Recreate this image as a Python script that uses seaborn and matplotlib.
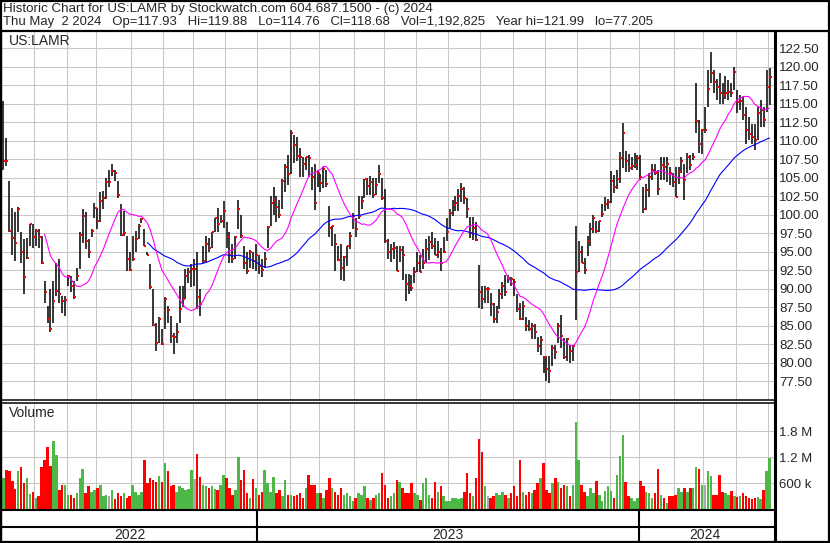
import numpy as np
import pandas as pd
import matplotlib
matplotlib.use("Agg")
import matplotlib.pyplot as plt
from matplotlib.patches import Rectangle
import seaborn as sns

# LAMR, one bar per two trading days, May 2022 -> May 2 2024
high = [
    115.4, 110.4, 104.5, 100.9, 100.3, 101.0, 97.6, 96.7, 96.9, 98.8,
    98.7, 98.0, 98.0, 97.1, 91.0, 87.7, 90.0, 91.0, 93.5, 94.0, 89.0,
    89.0, 91.9, 91.7, 91.0, 92.8, 97.6, 100.7, 100.3, 96.7, 98.0, 101.6,
    100.9, 103.0, 103.2, 105.0, 106.1, 106.8, 106.1, 104.5, 101.4, 100.5, 97.1,
    95.0, 97.1, 97.8, 98.7, 99.6, 98.0, 95.0, 93.3, 90.0, 85.4, 86.1,
    84.5, 88.8, 87.7, 86.3, 84.0, 85.4, 90.3, 90.3, 92.6, 92.8, 93.3,
    94.0, 94.9, 89.9, 95.8, 97.1, 96.9, 97.6, 99.6, 100.9, 99.9, 101.9,
    99.0, 97.6, 96.0, 97.1, 102.0, 99.9, 95.8, 95.0, 95.2, 95.0, 96.0,
    94.5, 94.0, 95.0, 98.5, 102.5, 103.8, 102.5, 102.0, 104.8, 106.8, 108.0,
    111.4, 110.8, 110.5, 109.0, 107.8, 107.8, 108.0, 106.5, 106.9, 106.0,
    105.5, 106.4, 106.0, 101.2, 98.5, 97.4, 95.8, 96.0, 94.4, 95.8, 97.6,
    100.2, 99.5, 102.5, 102.5, 104.8, 105.0, 105.2, 105.0, 105.0, 106.7,
    105.0, 103.5, 96.7, 96.0, 96.3, 95.8, 95.8, 95.8, 92.0, 92.0, 91.9,
    92.9, 95.0, 94.5, 95.3, 96.7, 97.1, 97.6, 96.9, 96.5, 95.5, 97.0,
    99.5, 100.8, 102.0, 102.5, 103.4, 104.3, 103.8, 102.3, 99.7, 99.7, 99.0,
    93.2, 90.4, 90.4, 90.2, 89.4, 88.1, 87.7, 90.0, 90.9, 91.8, 91.9,
    91.6, 91.3, 89.2, 88.1, 88.3, 86.2, 85.8, 85.4, 85.2, 83.4, 83.6,
    80.9, 80.9, 80.9, 82.4, 82.4, 85.4, 86.4, 83.3, 83.3, 82.4, 82.4,
    98.4, 96.5, 95.8, 94.2, 97.1, 98.9, 99.9, 99.2, 99.1, 101.4, 102.4,
    102.1, 105.9, 105.4, 106.1, 108.5, 112.4, 108.6, 108.2, 107.8, 108.3, 108.1,
    108.1, 103.8, 104.2, 105.6, 106.9, 106.9, 106.0, 107.8, 107.8, 107.8, 106.5,
    105.6, 106.5, 106.5, 107.8, 106.9, 108.3, 108.1, 108.3, 117.8, 112.8, 111.6,
    114.6, 119.6, 121.99, 119.6, 118.4, 119.1, 117.8, 118.7, 118.2, 117.8, 120.0,
    116.9, 116.2, 115.9, 114.6, 113.2, 112.3, 112.3, 114.6, 115.5, 114.6, 119.6,
    119.88,
]
low = [
    106.1, 106.6, 97.6, 94.6, 93.7, 97.6, 93.5, 89.2, 94.0, 95.8,
    95.5, 95.8, 95.5, 93.3, 88.1, 85.4, 84.1, 85.4, 89.0, 88.1, 86.7,
    86.3, 90.4, 89.5, 88.6, 91.0, 92.6, 96.2, 95.3, 94.2, 97.0, 99.5,
    98.0, 99.0, 100.7, 102.1, 103.8, 105.2, 104.5, 102.3, 97.1, 97.1, 92.4,
    92.4, 93.7, 94.9, 96.7, 98.9, 95.8, 94.6, 90.0, 85.0, 81.6, 82.7,
    82.4, 84.5, 85.3, 82.7, 81.2, 82.7, 85.4, 87.5, 88.6, 90.8, 90.2,
    90.4, 87.2, 86.3, 93.5, 93.5, 94.9, 95.5, 97.6, 97.6, 98.9, 98.2,
    95.5, 93.5, 93.5, 94.0, 98.0, 96.9, 92.6, 92.0, 92.8, 92.6, 92.4,
    92.0, 91.5, 92.8, 95.5, 98.5, 100.0, 99.0, 99.5, 100.7, 103.0, 104.0,
    105.5, 107.0, 107.3, 105.1, 105.1, 106.0, 105.1, 103.3, 100.6, 103.8,
    103.0, 103.6, 103.7, 97.0, 95.8, 92.4, 93.7, 91.2, 91.0, 93.1, 95.3,
    98.0, 97.0, 99.4, 100.7, 102.3, 102.7, 102.7, 102.3, 102.7, 104.3,
    102.0, 96.2, 94.0, 93.6, 94.0, 92.4, 93.6, 91.2, 88.3, 89.3, 89.7,
    90.8, 92.2, 92.2, 92.6, 93.5, 93.8, 95.3, 94.6, 94.2, 92.4, 94.8,
    96.5, 98.2, 99.8, 100.5, 100.5, 101.7, 101.4, 99.5, 96.9, 96.6, 96.4,
    87.4, 87.3, 88.1, 88.1, 86.3, 85.4, 85.4, 87.3, 88.6, 89.0, 90.8,
    90.4, 89.0, 86.8, 85.8, 85.8, 84.3, 84.3, 83.2, 83.2, 81.4, 81.0,
    78.6, 77.5, 77.2, 79.5, 80.5, 82.7, 81.9, 80.5, 80.2, 80.0, 80.2,
    85.8, 92.2, 93.5, 92.0, 94.4, 95.8, 97.5, 97.5, 97.7, 99.7, 100.5,
    100.7, 101.6, 102.9, 103.4, 104.3, 106.3, 105.8, 105.8, 106.0, 106.3, 106.0,
    104.7, 100.2, 100.6, 102.4, 104.7, 105.3, 102.6, 104.7, 104.7, 104.4, 104.0,
    103.8, 102.4, 104.2, 105.6, 102.0, 105.6, 106.0, 107.4, 111.0, 108.3, 108.2,
    111.0, 114.6, 117.8, 116.4, 115.5, 115.0, 115.0, 115.6, 115.5, 115.9, 116.9,
    113.7, 114.2, 112.8, 109.6, 110.1, 109.6, 108.7, 110.1, 111.9, 111.9, 113.9,
    114.76,
]
close = [
    107.3, 107.2, 97.8, 96.9, 96.2, 100.8, 94.9, 91.6, 94.2, 98.7,
    97.0, 97.8, 97.0, 93.4, 89.5, 85.9, 84.6, 88.3, 89.7, 89.2, 88.3,
    88.4, 91.7, 90.4, 88.9, 91.7, 97.2, 99.8, 96.4, 94.9, 97.8, 100.9,
    99.2, 101.8, 102.3, 104.4, 104.4, 105.9, 105.6, 102.6, 97.2, 97.5, 94.0,
    92.5, 94.0, 96.7, 98.5, 99.4, 95.8, 94.6, 90.2, 85.1, 82.6, 85.9,
    82.5, 88.6, 87.1, 83.6, 83.4, 84.1, 87.2, 88.6, 91.7, 92.2, 92.6,
    92.6, 88.8, 87.9, 93.7, 96.0, 95.5, 97.6, 99.6, 98.7, 99.1, 100.5,
    97.0, 94.5, 94.0, 97.0, 100.7, 97.1, 93.5, 92.4, 94.9, 93.7, 94.6,
    93.0, 92.5, 94.0, 98.3, 101.6, 102.0, 101.0, 100.0, 104.6, 106.5, 105.5,
    111.0, 109.4, 107.9, 107.8, 106.9, 107.8, 107.6, 105.1, 101.6, 105.6,
    104.3, 106.2, 104.1, 98.2, 98.5, 96.0, 93.8, 92.8, 94.3, 95.8, 97.1,
    99.8, 98.0, 99.8, 101.8, 104.8, 103.9, 104.4, 102.7, 104.0, 105.5,
    102.3, 96.4, 94.9, 95.3, 95.5, 92.4, 95.2, 94.5, 90.6, 90.4, 90.1,
    92.2, 93.5, 92.3, 93.5, 95.3, 96.3, 95.8, 94.6, 95.0, 93.5, 95.0,
    97.6, 100.2, 101.3, 101.6, 102.5, 103.4, 102.2, 100.8, 97.5, 98.2, 96.6,
    89.5, 88.6, 89.9, 89.9, 87.9, 85.9, 86.8, 89.2, 90.4, 89.5, 91.4,
    91.3, 90.9, 87.2, 85.9, 87.7, 84.9, 84.5, 85.0, 84.1, 82.3, 83.0,
    80.7, 79.1, 78.9, 82.0, 81.4, 85.0, 83.6, 80.7, 83.2, 81.6, 82.3,
    92.3, 94.9, 93.5, 92.5, 96.4, 98.0, 99.6, 97.8, 99.1, 100.1, 101.5,
    101.7, 104.6, 103.7, 104.8, 107.7, 111.1, 107.3, 106.3, 106.6, 106.7, 107.6,
    105.1, 100.8, 103.3, 105.1, 106.0, 105.6, 103.5, 106.7, 106.5, 106.8, 105.6,
    104.4, 102.4, 105.8, 107.2, 104.7, 107.8, 106.7, 107.8, 112.7, 109.5, 111.4,
    111.4, 117.0, 119.1, 117.9, 117.2, 116.5, 116.2, 116.4, 116.6, 116.5, 119.3,
    115.3, 115.4, 113.5, 111.5, 110.9, 110.5, 110.1, 113.7, 114.1, 112.8, 117.3,
    118.68,
]
# volume, thousands of shares
volume = [
    720, 900, 880, 650, 480, 880, 980, 600, 720, 350,
    400, 270, 300, 980, 1140, 1440, 1000, 1580, 1260, 450, 570,
    570, 340, 340, 260, 380, 720, 940, 380, 530, 410, 450,
    490, 570, 300, 340, 300, 450, 230, 380, 300, 380, 260,
    300, 570, 410, 340, 410, 1140, 600, 720, 680, 640, 760,
    640, 1060, 880, 530, 570, 410, 530, 490, 450, 470, 900,
    700, 1280, 740, 570, 530, 490, 530, 470, 450, 570, 800,
    720, 490, 340, 450, 1200, 680, 900, 380, 260, 700, 490,
    340, 410, 900, 600, 410, 740, 380, 450, 300, 680, 340,
    340, 300, 340, 380, 260, 500, 800, 560, 560, 380,
    380, 260, 450, 720, 490, 410, 340, 490, 340, 380, 300,
    200, 260, 380, 340, 530, 260, 220, 260, 340, 380,
    850, 570, 260, 300, 380, 680, 640, 490, 380, 380, 600,
    380, 340, 210, 600, 720, 340, 260, 640, 410, 550, 300,
    190, 190, 260, 270, 230, 260, 410, 850, 380, 300, 720,
    1620, 1330, 550, 300, 260, 300, 380, 340, 410, 340, 260,
    380, 530, 300, 1140, 410, 340, 410, 380, 450, 600, 720,
    1060, 450, 380, 600, 720, 640, 490, 560, 530, 300, 570,
    2020, 1140, 570, 410, 300, 490, 380, 650, 340, 190, 430,
    530, 430, 260, 800, 1220, 1710, 640, 300, 260, 190, 260,
    660, 550, 410, 380, 260, 380, 940, 340, 260, 160, 300,
    300, 340, 490, 410, 490, 410, 490, 490, 980, 940, 570,
    570, 880, 760, 340, 340, 800, 410, 380, 340, 430, 300,
    280, 300, 380, 300, 260, 230, 260, 280, 230, 450, 880,
    1190,
]
price_ticks = np.arange(77.5, 122.51, 2.5)
vol_ticks = [0.6, 1.2, 1.8]
vol_tick_labels = ["600 k", "1.2 M", "1.8 M"]
header1 = "Historic Chart for US:LAMR by Stockwatch.com 604.687.1500 - (c) 2024"
header2 = ("Thu May  2 2024   Op=117.93   Hi=119.88   Lo=114.76   Cl=118.68   "
           "Vol=1,192,825   Year hi=121.99   lo=77.205")

sns.set_style("white")
plt.rcParams["font.family"] = ["Liberation Sans", "DejaVu Sans"]

df = pd.DataFrame({"high": high, "low": low, "close": close, "vol": volume})
df["date"] = pd.bdate_range(end="2024-05-02", periods=2 * len(df))[1::2]
df["x"] = np.arange(len(df))
df["ma_fast"] = df["close"].rolling(15).mean()
df["ma_slow"] = df["close"].rolling(50).mean()
chg = df["close"].diff().fillna(1)
df["vcol"] = np.where(chg > 0, "#4db848", np.where(chg < 0, "#ff0000", "#a8a8a8"))

month = df["date"].dt.to_period("M")
month_edges = df["x"][month != month.shift()].values[1:] - 0.5
year = df["date"].dt.year
year_edges = df["x"][year != year.shift()].values[1:] - 0.5

W, H = 830, 543
fig = plt.figure(figsize=(W / 100, H / 100), dpi=100)


def rect(x0, y0, x1, y1):
    return [x0 / W, 1 - y1 / H, (x1 - x0) / W, (y1 - y0) / H]


ax = fig.add_axes(rect(2, 32, 774.5, 399.5))
axv = fig.add_axes(rect(2, 402.5, 774.5, 509.5), sharex=ax)
axd = fig.add_axes(rect(2, 509.5, 774.5, 542), sharex=ax)

grid_kw = dict(color="#c8c8c8", lw=0.75)

# price panel
ax.vlines(df["x"], df["low"], df["high"], color="black", lw=1.1, zorder=2)
ax.scatter(df["x"] + 0.35, df["close"], marker="s", s=2.2, color="red",
           linewidths=0, zorder=3)
sns.lineplot(data=df, x="x", y="ma_slow", ax=ax, color="#0000ff", lw=0.8,
             errorbar=None, zorder=4)
sns.lineplot(data=df, x="x", y="ma_fast", ax=ax, color="#ff00ff", lw=0.8,
             errorbar=None, zorder=4)
ax.set_xlim(-0.51, len(df) - 1 + 1.7)
ax.set_ylim(75.0, 124.7)
ax.set_yticks(price_ticks)
ax.set_yticklabels([f"{t:.2f}" for t in price_ticks])
ax.yaxis.tick_right()
ax.set_xticks(month_edges)
ax.grid(True, **grid_kw)
ax.tick_params(axis="y", length=0, pad=3.3, labelsize=9.5)
ax.tick_params(axis="x", length=0, labelbottom=False)
ax.set_xlabel("")
ax.set_ylabel("")

# volume panel
axv.bar(df["x"], df["vol"] / 1000, width=0.85, color=df["vcol"], linewidth=0, zorder=2)
axv.set_ylim(0, 2.46)
axv.set_yticks(vol_ticks)
axv.set_yticklabels(vol_tick_labels)
axv.yaxis.tick_right()
axv.grid(True, **grid_kw)
axv.tick_params(axis="y", length=0, pad=3.3, labelsize=9.5)
axv.tick_params(axis="x", length=0, labelbottom=False)

# date strip
axd.set_ylim(0, 1)
axd.axis("off")
axd.vlines(year_edges, 0, 1, color="black", lw=1.5)
for yr, grp in df.groupby(year):
    axd.text((grp["x"].iloc[0] + grp["x"].iloc[-1]) / 2, 0.23, str(yr),
             ha="center", va="center", fontsize=10)

for a in (ax, axv):
    for s in a.spines.values():
        s.set_visible(False)

# frame lines and labels in pixel space
fr = fig.add_axes([0, 0, 1, 1], zorder=10)
fr.set_xlim(0, W)
fr.set_ylim(H, 0)
fr.axis("off")
fr.patch.set_alpha(0)
fr.add_patch(Rectangle((0.7, 0.7), W - 1.8, H - 1.6, fill=False, ec="black", lw=1.6))
fr.plot([0, W], [31, 31], color="black", lw=1.6)
fr.plot([0, 774.5], [399.8, 399.8], color="black", lw=1.1)
fr.plot([0, 774.5], [402.6, 402.6], color="black", lw=1.1)
fr.plot([0, 774.5], [510, 510], color="black", lw=1.5)
fr.plot([0, 774.5], [527, 527], color="black", lw=1.5)
fr.plot([774.5, 774.5], [31, H], color="black", lw=2.2)
fr.plot([1.2, 1.2], [31, H], color="black", lw=1.6)
fr.text(3, 9, header1, fontsize=9.65, va="center")
fr.text(3, 22.5, header2, fontsize=9.45, va="center")
fr.text(9, 41, "US:LAMR", fontsize=10, va="center")
fr.text(9, 413, "Volume", fontsize=10, va="center")

fig.savefig("out.png", dpi=100)
